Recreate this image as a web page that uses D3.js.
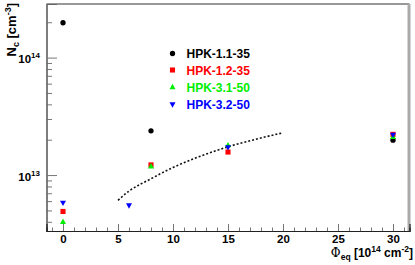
<!DOCTYPE html>
<html>
<head>
<meta charset="utf-8">
<script src="https://cdn.jsdelivr.net/npm/d3@7"></script>
<style>
  body { margin: 0; background: #fff; }
  text { font-family: "Liberation Sans", Arial, sans-serif; font-weight: bold; }
</style>
</head>
<body>
<div id="chart"></div>
<script>
// Data (fluence in 1e14 cm^-2, Nc in cm^-3)
const seriesNames = ["HPK-1.1-35", "HPK-1.2-35", "HPK-3.1-50", "HPK-3.2-50"];
const seriesColors = ["#000000", "#ff0000", "#00ee00", "#0000ff"];
const seriesShapes = ["circle", "square", "triangleUp", "triangleDown"];

const hpk11 = [[0, 1.98e14], [8, 2.38e13], [30, 1.98e13]];
const hpk12 = [[0, 4.9e12], [8, 1.22e13], [15, 1.57e13], [30, 2.22e13]];
const hpk31 = [[0, 4.0e12], [8, 1.19e13], [15, 1.8e13], [30, 2.12e13]];
const hpk32 = [[0, 5.8e12], [6, 5.5e12], [15, 1.72e13], [30, 2.2e13]];

// dashed curve, points
const fitCurve = [[5, 6.1e12], [6, 7.3e12], [8, 9.3e12], [10, 1.16e13], [12, 1.39e13],
  [15, 1.74e13], [18, 2.07e13], [20, 2.29e13]];

const xMajor = [0, 5, 10, 15, 20, 25, 30];
const yMajor = [1e13, 1e14];
const yMajorLabels = ["13", "14"];

const width = 415, height = 265;
const frame = { left: 46.5, right: 409.5, top: 4, bottom: 231 };

const svg = d3.select("#chart").append("svg")
  .attr("width", width)
  .attr("height", height);

const x = d3.scaleLinear().domain([-1.5, 31.5]).range([frame.left, frame.right]);
const y = d3.scaleLog().domain([3.34e12, 2.86e14]).range([frame.bottom, frame.top]);

// frame
svg.append("line")
  .attr("x1", frame.left).attr("x2", frame.right)
  .attr("y1", frame.top).attr("y2", frame.top)
  .attr("stroke", "#333").attr("stroke-width", 1);
svg.append("line")
  .attr("x1", frame.right - 0.5).attr("x2", frame.right - 0.5)
  .attr("y1", frame.top).attr("y2", frame.bottom)
  .attr("stroke", "#aaa").attr("stroke-width", 3);

// y axis ticks
const yMinor = [];
[12, 13, 14].forEach(e => {
  for (let k = 2; k <= 9; k++) {
    const v = k * Math.pow(10, e);
    if (v >= y.domain()[0] && v <= y.domain()[1]) yMinor.push(v);
  }
});

const yAxisMinor = svg.append("g")
  .attr("transform", "translate(" + frame.left + ",0)")
  .call(d3.axisRight(y).tickValues(yMinor).tickSize(5.5).tickFormat(""));
const yAxisMajor = svg.append("g")
  .attr("transform", "translate(" + frame.left + ",0)")
  .call(d3.axisRight(y).tickValues(yMajor).tickSize(10.5).tickFormat(""));
[yAxisMinor, yAxisMajor].forEach(g => {
  g.select(".domain").attr("stroke", "#666").attr("stroke-width", 1.2);
  g.selectAll(".tick line").attr("stroke", "#777");
});

yMajor.forEach((v, i) => {
  const t = svg.append("text")
    .attr("x", 40)
    .attr("y", y(v) + 5.5)
    .attr("text-anchor", "end")
    .attr("font-size", 11.5)
    .attr("fill", "#000");
  t.append("tspan").text("10");
  t.append("tspan").attr("dy", -5).attr("font-size", 8).text(yMajorLabels[i]);
});

// x axis ticks
const xMinor = d3.range(-1, 32).filter(v => v % 5 !== 0);
const xAxisMinor = svg.append("g")
  .attr("transform", "translate(0," + frame.bottom + ")")
  .call(d3.axisTop(x).tickValues(xMinor).tickSize(3.5).tickFormat(""));
const xAxisMajor = svg.append("g")
  .attr("transform", "translate(0," + frame.bottom + ")")
  .call(d3.axisTop(x).tickValues(xMajor).tickSize(7).tickFormat(""));
[xAxisMinor, xAxisMajor].forEach(g => {
  g.select(".domain").attr("stroke", "#222").attr("stroke-width", 1.2);
  g.selectAll(".tick line").attr("stroke", "#777");
});

const xLabels = svg.append("g")
  .attr("transform", "translate(0," + frame.bottom + ")")
  .call(d3.axisBottom(x).tickValues(xMajor).tickSize(0).tickPadding(4).tickFormat(d3.format("d")));
xLabels.select(".domain").remove();
xLabels.selectAll("text")
  .attr("font-size", 11.5)
  .attr("font-family", "Liberation Sans, Arial, sans-serif")
  .attr("font-weight", "bold")
  .attr("fill", "#000");

// axis titles
const xTitle = svg.append("text")
  .attr("x", 413)
  .attr("y", 257)
  .attr("text-anchor", "end")
  .attr("font-size", 12)
  .attr("fill", "#000");
xTitle.append("tspan").attr("font-family", "DejaVu Serif, serif").attr("font-weight", "normal").text("\u03A6");
xTitle.append("tspan").attr("dy", 3).attr("font-size", 8.5).text("eq");
xTitle.append("tspan").attr("dy", -3).text(" [10");
xTitle.append("tspan").attr("dy", -5).attr("font-size", 8.5).text("14");
xTitle.append("tspan").attr("dy", 5).text(" cm");
xTitle.append("tspan").attr("dy", -5).attr("font-size", 8.5).text("-2");
xTitle.append("tspan").attr("dy", 5).text("]");

const yTitle = svg.append("text")
  .attr("transform", "translate(16,3) rotate(-90)")
  .attr("text-anchor", "end")
  .attr("font-size", 13)
  .attr("fill", "#000");
yTitle.append("tspan").text("N");
yTitle.append("tspan").attr("dy", 3).attr("font-size", 9).text("c");
yTitle.append("tspan").attr("dy", -3).text(" [cm");
yTitle.append("tspan").attr("dy", -5).attr("font-size", 9).text("-3");
yTitle.append("tspan").attr("dy", 5).text("]");

// dashed curve
const line = d3.line().x(d => x(d[0])).y(d => y(d[1])).curve(d3.curveMonotoneX);
svg.append("path")
  .datum(fitCurve)
  .attr("d", line)
  .attr("fill", "none")
  .attr("stroke", "#111")
  .attr("stroke-width", 1.6)
  .attr("stroke-dasharray", "2,2");

// markers
function markerPath(shape) {
  switch (shape) {
    case "circle":
      return d3.symbol().type(d3.symbolCircle).size(22)();
    case "square":
      return d3.symbol().type(d3.symbolSquare).size(26)();
    case "triangleUp":
      return "M0,-3.2L3,2.2L-3,2.2Z";
    case "triangleDown":
      return "M0,3.2L3,-2.2L-3,-2.2Z";
    default:
      break;
  }
}

const allSeries = [hpk11, hpk12, hpk31, hpk32];
allSeries.forEach((data, i) => {
  svg.append("g")
    .selectAll("path")
    .data(data)
    .enter()
    .append("path")
    .attr("d", markerPath(seriesShapes[i]))
    .attr("transform", d => "translate(" + x(d[0]) + "," + y(d[1]) + ")")
    .attr("fill", seriesColors[i]);
});

// legend
const legendRowsY = [53.5, 70, 87, 104.5];
seriesNames.forEach((name, i) => {
  svg.append("path")
    .attr("d", markerPath(seriesShapes[i]))
    .attr("transform", "translate(172.5," + legendRowsY[i] + ")")
    .attr("fill", seriesColors[i]);
  svg.append("text")
    .attr("x", 186.5)
    .attr("y", legendRowsY[i] + 4.5)
    .attr("font-size", 12)
    .attr("fill", seriesColors[i])
    .text(name);
});
</script>
</body>
</html>
